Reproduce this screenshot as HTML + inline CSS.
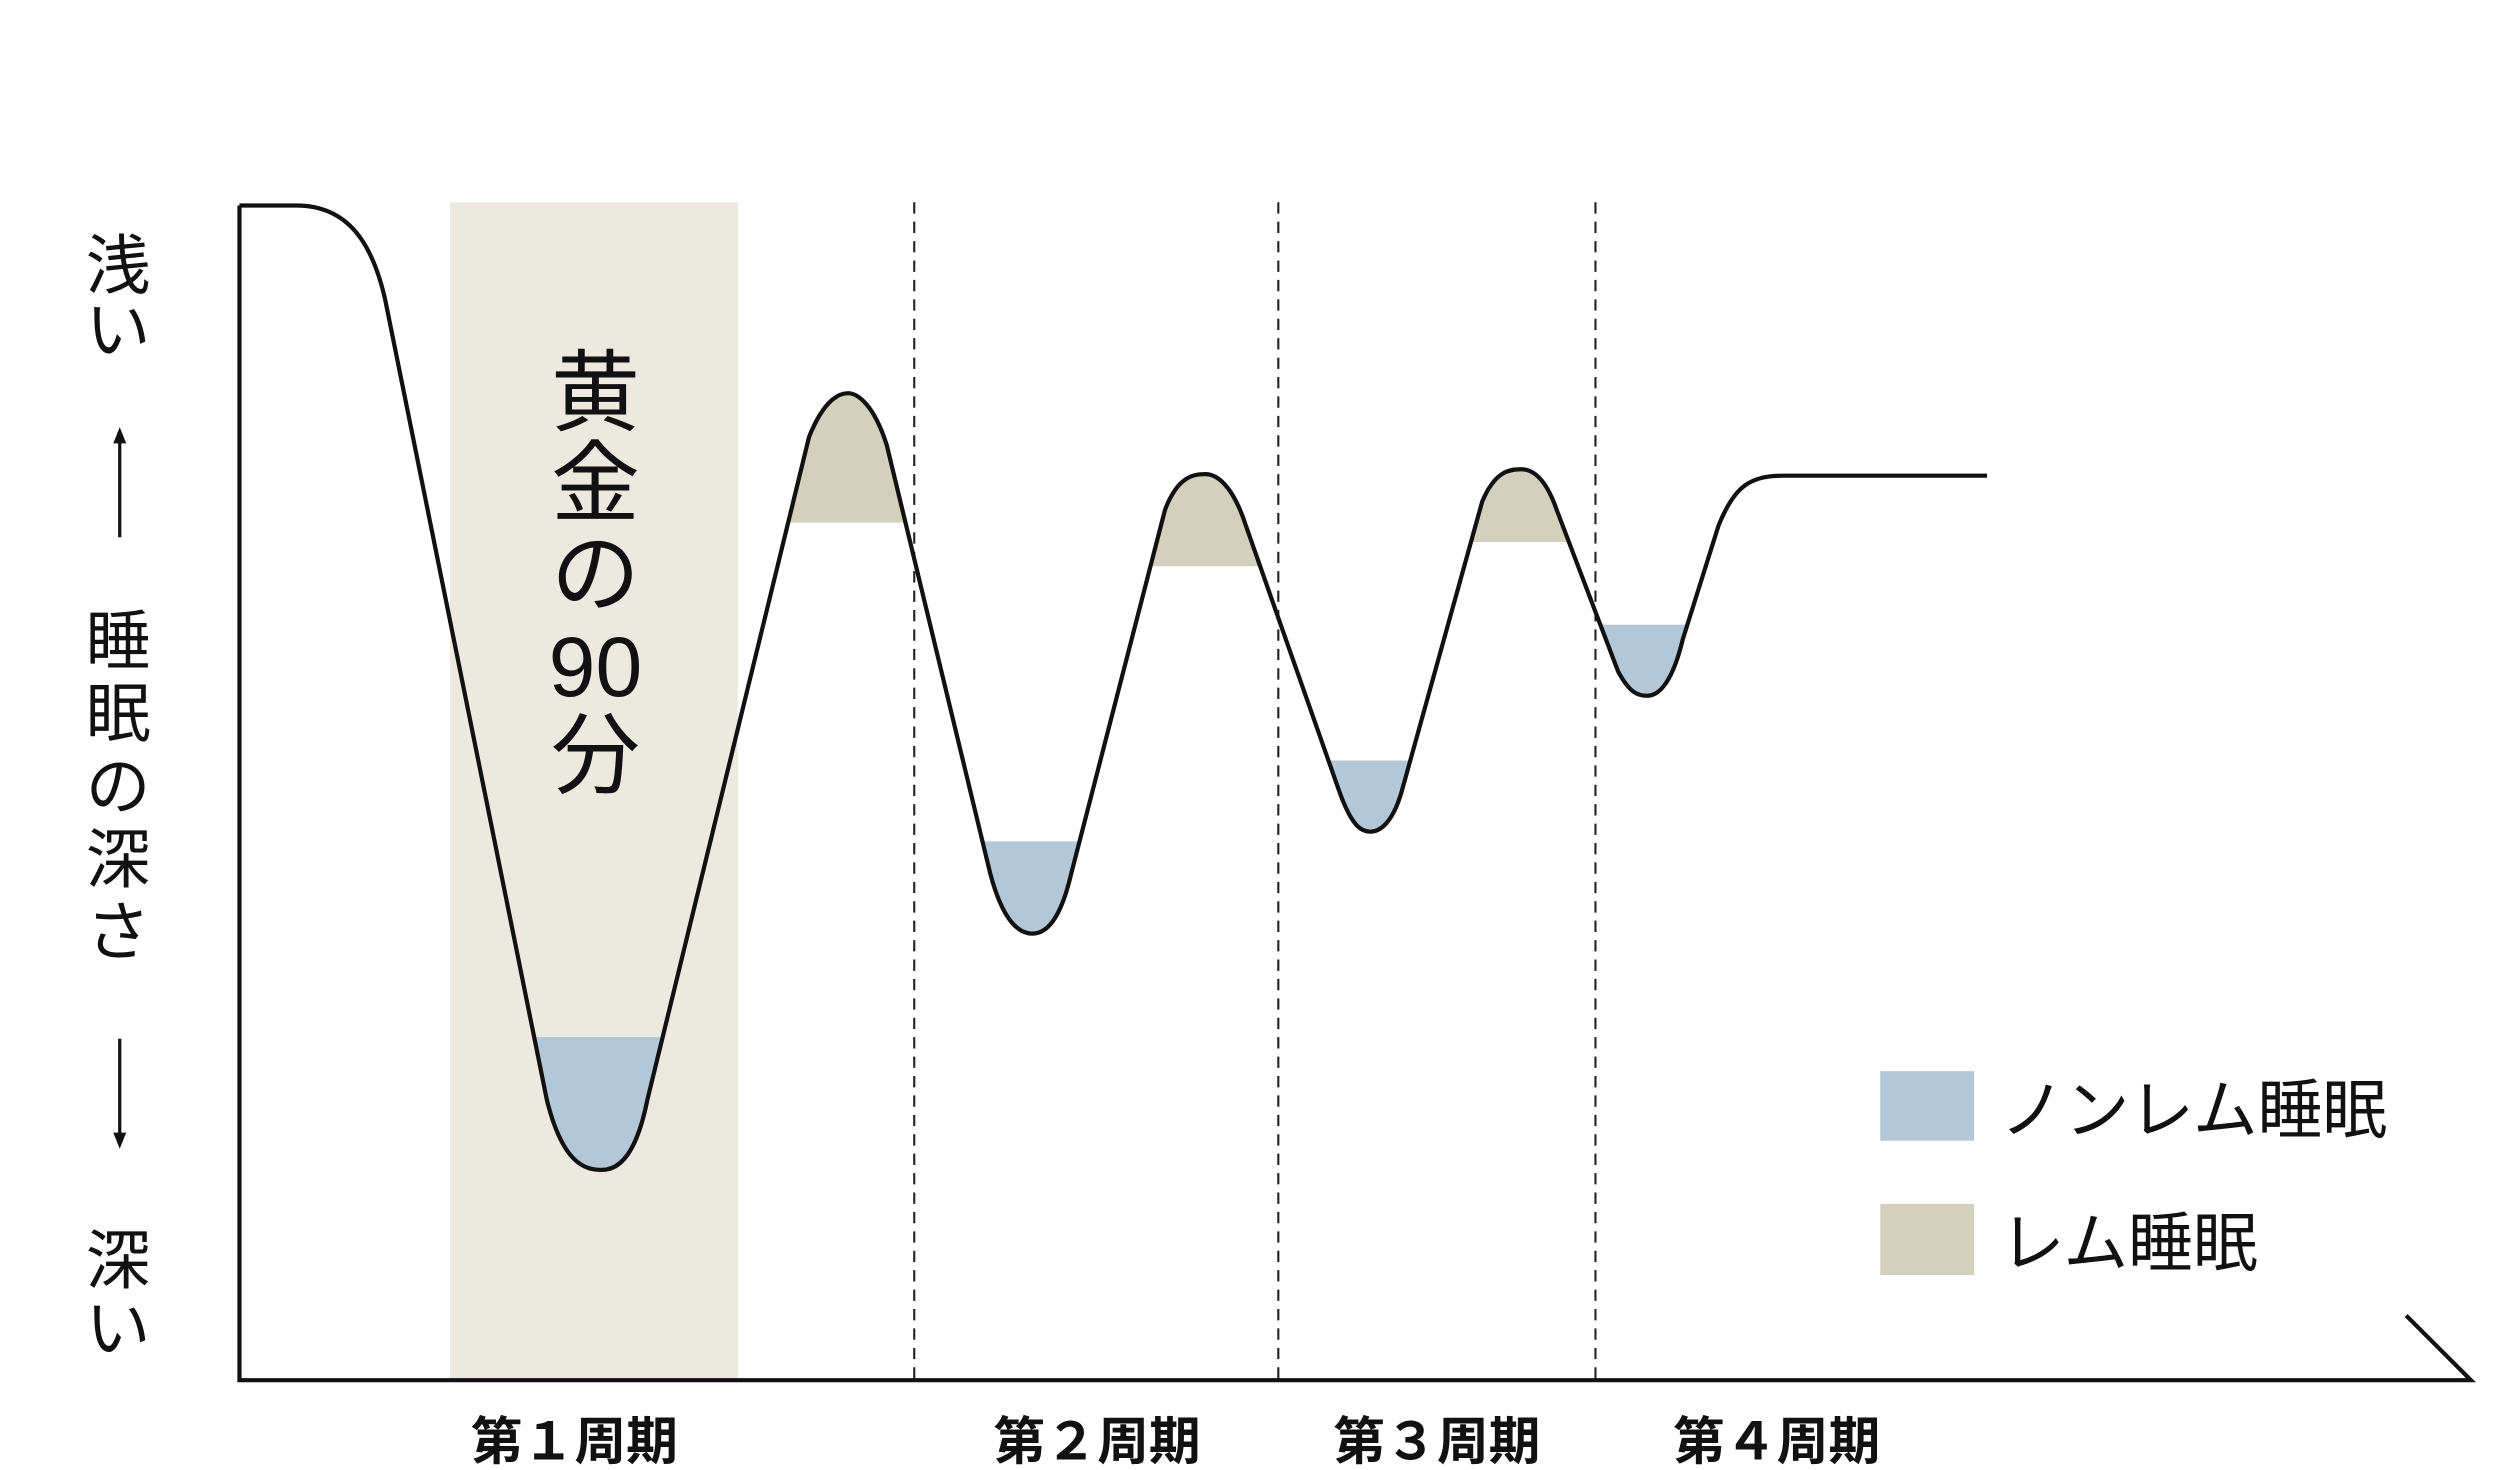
<!DOCTYPE html>
<html><head><meta charset="utf-8"><style>html,body{margin:0;padding:0;background:#fff}svg{display:block}
text{font-family:"Liberation Sans","Noto Sans CJK JP",sans-serif;fill:#111}</style></head><body>
<svg width="2500" height="1470" viewBox="0 0 1545 908.5" preserveAspectRatio="none" xmlns="http://www.w3.org/2000/svg">
<defs>
<path id="c" d="M148,127 L183,127 C215,127 230,150 238,185 L338,680 C348,720 362,723 372,723 C382,723 393,715 400,680 L500,270 C510,245 520,243 524,243 C530,243 540,250 548,275 L612,540 C620,570 630,577 638,577 C646,577 655,570 662,540 L720,315 C728,294 738,293 745,293 C752,293 762,300 770,325 L828,490 C836,512 842,514 847,514 C852,514 860,510 866,490 L916,310 C924,291 933,290 940,290 C947,290 955,295 962,315 L1000,415 C1007,428 1012,430 1018,430 C1026,430 1034,420 1040,395 L1062,325 C1072,300 1082,294 1102,294 L1228,294"/>
<clipPath id="t1"><rect x="300" y="641" width="140" height="200"/><rect x="590" y="520" width="100" height="100"/><rect x="800" y="470" width="90" height="60"/><rect x="985" y="386" width="70" height="60"/></clipPath>
<clipPath id="p1"><rect x="470" y="200" width="110" height="123"/><rect x="700" y="250" width="90" height="100"/><rect x="895" y="250" width="85" height="85"/></clipPath>
</defs>
<rect x="278" y="125" width="178" height="728" fill="#eceae0"/>
<g clip-path="url(#t1)"><path d="M148,127 L183,127 C215,127 230,150 238,185 L338,680 C348,720 362,723 372,723 C382,723 393,715 400,680 L500,270 C510,245 520,243 524,243 C530,243 540,250 548,275 L612,540 C620,570 630,577 638,577 C646,577 655,570 662,540 L720,315 C728,294 738,293 745,293 C752,293 762,300 770,325 L828,490 C836,512 842,514 847,514 C852,514 860,510 866,490 L916,310 C924,291 933,290 940,290 C947,290 955,295 962,315 L1000,415 C1007,428 1012,430 1018,430 C1026,430 1034,420 1040,395 L1062,325 C1072,300 1082,294 1102,294 L1228,294 L1228,0 L148,0Z" fill="#b4c7d6"/></g>
<g clip-path="url(#p1)"><path d="M148,127 L183,127 C215,127 230,150 238,185 L338,680 C348,720 362,723 372,723 C382,723 393,715 400,680 L500,270 C510,245 520,243 524,243 C530,243 540,250 548,275 L612,540 C620,570 630,577 638,577 C646,577 655,570 662,540 L720,315 C728,294 738,293 745,293 C752,293 762,300 770,325 L828,490 C836,512 842,514 847,514 C852,514 860,510 866,490 L916,310 C924,291 933,290 940,290 C947,290 955,295 962,315 L1000,415 C1007,428 1012,430 1018,430 C1026,430 1034,420 1040,395 L1062,325 C1072,300 1082,294 1102,294 L1228,294 L1228,900 L148,900Z" fill="#d3d0bd"/></g>
<g stroke="#222" stroke-width="1.3" stroke-dasharray="7,5"><line x1="565" y1="125" x2="565" y2="853"/><line x1="790" y1="125" x2="790" y2="853"/><line x1="986" y1="125" x2="986" y2="853"/></g>
<use href="#c" fill="none" stroke="#111" stroke-width="2.6"/>
<path d="M148,127 L148,853 L1527,853 L1487,813" fill="none" stroke="#111" stroke-width="2.6"/>
<g font-size="40" text-anchor="middle">
<text x="73" y="178">浅</text><text x="73" y="218">い</text>
<text x="73" y="410">睡</text><text x="73" y="455">眠</text><text x="73" y="500">の</text><text x="73" y="545">深</text><text x="73" y="590">さ</text>
<text x="73" y="793">深</text><text x="73" y="835">い</text>
</g>
<g stroke="#111" stroke-width="2"><line x1="74" y1="272" x2="74" y2="332"/><line x1="74" y1="642" x2="74" y2="702"/></g>
<path d="M70,274 L74,264 L78,274Z M70,700 L74,710 L78,700Z" fill="#111"/>
<g font-size="55" text-anchor="middle">
<text x="368" y="262">黄</text><text x="368" y="318">金</text><text x="368" y="374">の</text><text x="368" y="430" font-size="52">90</text><text x="368" y="486">分</text>
</g>
<rect x="1162" y="662" width="58" height="43" fill="#b4c7d6"/>
<rect x="1162" y="744" width="58" height="44" fill="#d3d0bd"/>
<g font-size="40"><text x="1236" y="700">ノンレム睡眠</text><text x="1236" y="782">レム睡眠</text></g>
<g font-size="32" text-anchor="middle" font-weight="bold" fill="#222">
<text x="355" y="902">第１周期</text><text x="678" y="902">第２周期</text><text x="888" y="902">第３周期</text><text x="1098" y="902">第４周期</text>
</g>
</svg>
</body></html>
